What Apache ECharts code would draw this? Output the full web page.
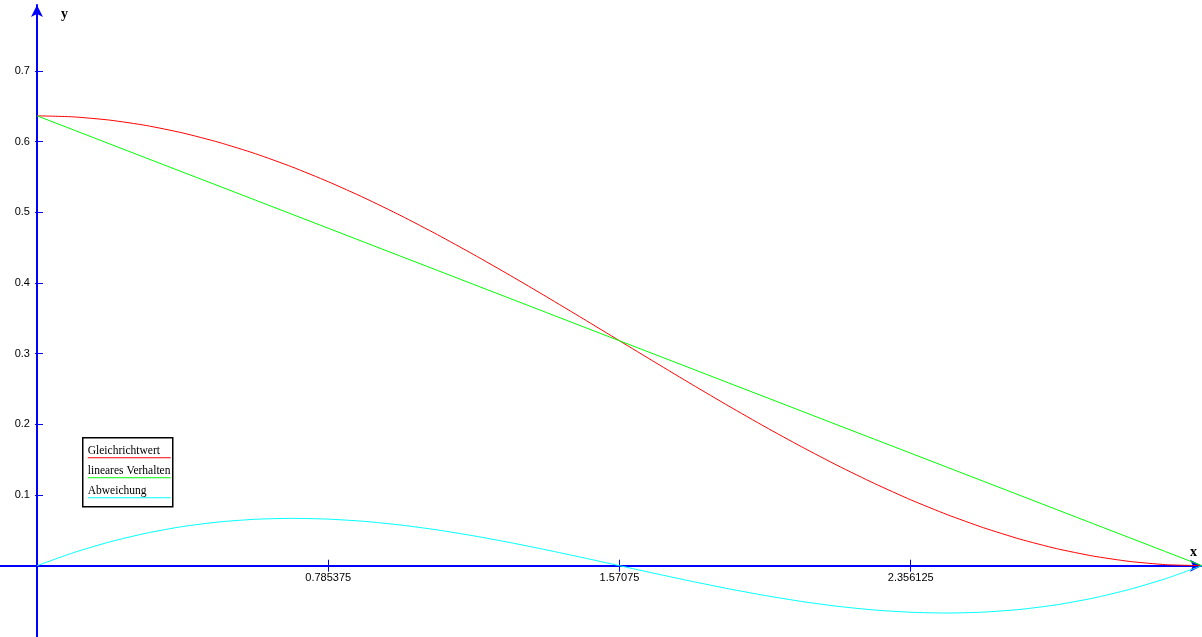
<!DOCTYPE html>
<html>
<head>
<meta charset="utf-8">
<script src="https://cdn.jsdelivr.net/npm/echarts@6/dist/echarts.min.js"></script>
<style>
html,body{margin:0;padding:0;background:#fff;}
#chart{width:1202px;height:637px;}
</style>
</head>
<body>
<div id="chart"></div>
<script>
// x positions (0 .. 3.1415)
const xValues = [0, 0.09817, 0.19634, 0.29452, 0.39269, 0.49086, 0.58903, 0.68720, 0.78538, 0.88355,
  0.98172, 1.07989, 1.17806, 1.27623, 1.37441, 1.47258, 1.57075, 1.66892, 1.76709, 1.86527, 1.96344,
  2.06161, 2.15978, 2.25795, 2.35613, 2.45430, 2.55247, 2.65064, 2.74881, 2.84698, 2.94516, 3.04333, 3.1415];
const gleichrichtwert = [0.6366, 0.6351, 0.6305, 0.6229, 0.6124, 0.5990, 0.5830, 0.5644, 0.5434, 0.5203,
  0.4952, 0.4684, 0.4401, 0.4107, 0.3804, 0.3495, 0.3183, 0.2871, 0.2562, 0.2259, 0.1965, 0.1683, 0.1415,
  0.1164, 0.0932, 0.0723, 0.0537, 0.0376, 0.0242, 0.0137, 0.0061, 0.0015, 0];
const linearesVerhalten = [0.6366, 0.6167, 0.5968, 0.5769, 0.5570, 0.5372, 0.5173, 0.4974, 0.4775, 0.4576,
  0.4377, 0.4178, 0.3979, 0.3780, 0.3581, 0.3382, 0.3183, 0.2984, 0.2785, 0.2586, 0.2387, 0.2188, 0.1989,
  0.1790, 0.1592, 0.1393, 0.1194, 0.0995, 0.0796, 0.0597, 0.0398, 0.0199, 0];
const abweichung = [0, 0.0184, 0.0337, 0.0460, 0.0554, 0.0619, 0.0657, 0.0670, 0.0659, 0.0627,
  0.0575, 0.0506, 0.0422, 0.0327, 0.0223, 0.0113, 0, -0.0113, -0.0223, -0.0327, -0.0422, -0.0506, -0.0575,
  -0.0627, -0.0659, -0.0670, -0.0657, -0.0619, -0.0554, -0.0460, -0.0337, -0.0184, 0];
const xTicks = [0.785375, 1.57075, 2.356125];
const yTicks = [0.1, 0.2, 0.3, 0.4, 0.5, 0.6, 0.7];
const seriesNames = ['Gleichrichtwert', 'lineares Verhalten', 'Abweichung'];
const colors = ['#ff0000', '#00ff00', '#00ffff'];

const pairs = arr => xValues.map((x, i) => [x, arr[i]]);
const blue = '#0000ff';
const X_MIN = -0.0997, X_MAX = 3.1415, Y_MIN = -0.1009, Y_MAX = 0.7934;
const W = 1202, H = 637, TOP = 5;
const xOff = -((H - TOP) * (0 - Y_MIN) / (Y_MAX - Y_MIN));
const yOff = -(W * (0 - X_MIN) / (X_MAX - X_MIN));

const baseX = {
  type: 'value', min: X_MIN, max: X_MAX, position: 'bottom', offset: xOff, splitLine: {show: false}
};
const baseY = {
  type: 'value', min: Y_MIN, max: Y_MAX, position: 'left', offset: yOff, splitLine: {show: false}
};

const chart = echarts.init(document.getElementById('chart'), null, {renderer: 'canvas'});
chart.setOption({
  animation: false,
  backgroundColor: '#ffffff',
  grid: {left: 0, right: 0, top: TOP, bottom: 0, containLabel: false, outerBoundsMode: 'none'},
  xAxis: [Object.assign({}, baseX, {
    name: 'x', nameLocation: 'end', nameGap: -12,
    nameTextStyle: {fontFamily: 'Liberation Serif', fontWeight: 'bold', fontSize: 14, color: '#000',
      align: 'left', verticalAlign: 'bottom', padding: [0, 0, 6, 0]},
    axisLine: {show: true, onZero: false, lineStyle: {color: blue, width: 2}, symbol: ['none', 'arrow'], symbolSize: [9, 12]},
    axisTick: {show: true, customValues: xTicks, length: 6, inside: false, lineStyle: {color: blue, width: 1}},
    axisLabel: {customValues: xTicks, fontFamily: 'Liberation Sans', fontSize: 11, color: '#000', margin: 7,
      formatter: v => String(v)}
  }), Object.assign({}, baseX, {
    axisLine: {show: false, onZero: false},
    axisTick: {show: true, customValues: xTicks, length: 6, inside: true, lineStyle: {color: blue, width: 1}},
    axisLabel: {show: false}
  })],
  yAxis: [Object.assign({}, baseY, {
    name: 'y', nameLocation: 'end', nameGap: -2,
    nameTextStyle: {fontFamily: 'Liberation Serif', fontWeight: 'bold', fontSize: 14, color: '#000',
      align: 'left', verticalAlign: 'top', padding: [0, 0, 0, 24]},
    axisLine: {show: true, onZero: false, lineStyle: {color: blue, width: 2}, symbol: ['none', 'arrow'], symbolSize: [9, 12]},
    axisTick: {show: true, customValues: yTicks, length: 2, inside: false, lineStyle: {color: blue, width: 1}},
    axisLabel: {customValues: yTicks, fontFamily: 'Liberation Sans', fontSize: 11, color: '#000', margin: 7,
      formatter: v => String(v)}
  }), Object.assign({}, baseY, {
    axisLine: {show: false, onZero: false},
    axisTick: {show: true, customValues: yTicks, length: 6, inside: true, lineStyle: {color: blue, width: 1}},
    axisLabel: {show: false}
  })],
  series: [gleichrichtwert, linearesVerhalten, abweichung].map((arr, i) => ({
    type: 'line', name: seriesNames[i], data: pairs(arr), smooth: i === 1 ? false : 0.2,
    showSymbol: false, lineStyle: {color: colors[i], width: 1}, z: 1
  })),
  graphic: [{
    type: 'group', left: 82, top: 437,
    children: [
      {type: 'rect', shape: {x: 0, y: 0, width: 90, height: 69}, style: {fill: '#fff', stroke: '#000', lineWidth: 1.5}},
      ...seriesNames.flatMap((n, i) => [
        {type: 'text', x: 5, y: 7 + i * 20, style: {text: n, font: '11.5px "Liberation Serif"', fill: '#000'}},
        {type: 'line', shape: {x1: 5, y1: 20 + i * 20, x2: 88, y2: 20 + i * 20}, style: {stroke: colors[i], lineWidth: 1}}
      ])
    ]
  }]
});
</script>
</body>
</html>
